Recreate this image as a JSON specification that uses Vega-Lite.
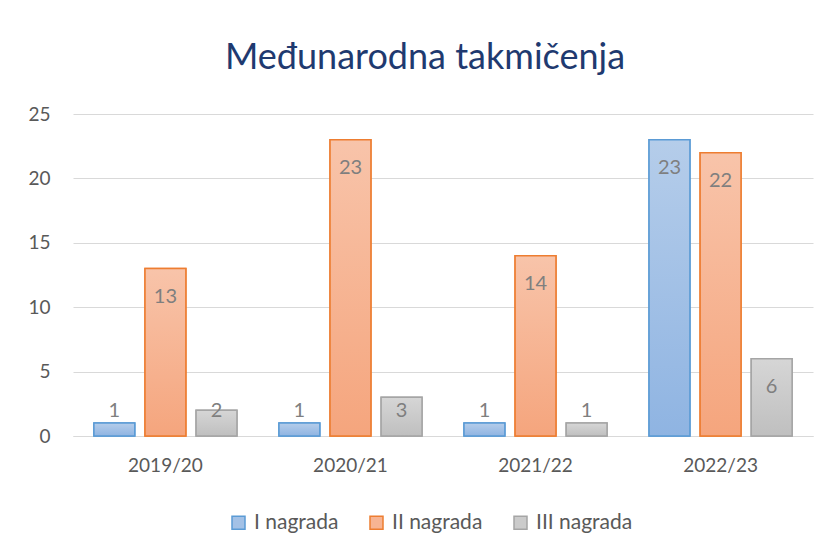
{
  "$schema": "https://vega.github.io/schema/vega-lite/v6.json",
  "autosize": "none",
  "width": 740,
  "height": 322,
  "padding": {"left": 73, "top": 114, "right": 19, "bottom": 114},
  "background": "white",
  "title": {
    "text": "Međunarodna takmičenja",
    "font": "Lato",
    "fontSize": 36,
    "fontWeight": "normal",
    "color": "#1f3a70",
    "anchor": "middle",
    "offset": 28,
    "dx": -18
  },
  "data": {
    "values": [
      {"year": "2019/20", "series": "I nagrada", "v": 1},
      {"year": "2019/20", "series": "II nagrada", "v": 13},
      {"year": "2019/20", "series": "III nagrada", "v": 2},
      {"year": "2020/21", "series": "I nagrada", "v": 1},
      {"year": "2020/21", "series": "II nagrada", "v": 23},
      {"year": "2020/21", "series": "III nagrada", "v": 3},
      {"year": "2021/22", "series": "I nagrada", "v": 1},
      {"year": "2021/22", "series": "II nagrada", "v": 14},
      {"year": "2021/22", "series": "III nagrada", "v": 1},
      {"year": "2022/23", "series": "I nagrada", "v": 23},
      {"year": "2022/23", "series": "II nagrada", "v": 22},
      {"year": "2022/23", "series": "III nagrada", "v": 6}
    ]
  },
  "encoding": {
    "x": {
      "field": "year",
      "type": "nominal",
      "scale": {"paddingInner": 0.227, "paddingOuter": 0.113},
      "axis": {
        "title": null,
        "labelAngle": 0,
        "labelFont": "Lato",
        "labelFontSize": 19,
        "labelColor": "#595959",
        "labelPadding": 20,
        "ticks": false,
        "domain": true,
        "domainColor": "#d9d9d9",
        "domainWidth": 1
      }
    },
    "xOffset": {
      "field": "series",
      "type": "nominal",
      "scale": {"paddingInner": 0.2, "paddingOuter": 0}
    }
  },
  "layer": [
    {
      "mark": {"type": "bar", "strokeWidth": 1.5},
      "encoding": {
        "y": {
          "field": "v",
          "type": "quantitative",
          "stack": null,
          "scale": {"domain": [0, 25], "nice": false},
          "axis": {
            "title": null,
            "values": [0, 5, 10, 15, 20, 25],
            "labelFont": "Lato",
            "labelFontSize": 19,
            "labelColor": "#595959",
            "labelPadding": 23,
            "ticks": false,
            "domain": false,
            "grid": true,
            "gridColor": "#d9d9d9",
            "gridWidth": 1
          }
        },
        "fill": {
          "field": "series",
          "type": "nominal",
          "scale": {
            "domain": ["I nagrada", "II nagrada", "III nagrada"],
            "range": ["#a3c1e6", "#f7b493", "#cbcbcb"]
          },
          "legend": {
            "title": null,
            "orient": "none",
            "legendX": 155,
            "legendY": 398,
            "direction": "horizontal",
            "symbolType": "square",
            "symbolSize": 169,
            "symbolStrokeWidth": 1.5,
            "labelFont": "Lato",
            "labelFontSize": 21,
            "labelColor": "#595959",
            "labelOffset": 5,
            "columnPadding": 27
          }
        },
        "stroke": {
          "field": "series",
          "type": "nominal",
          "scale": {
            "domain": ["I nagrada", "II nagrada", "III nagrada"],
            "range": ["#5b9bd5", "#ed7d31", "#a5a5a5"]
          },
          "legend": null
        }
      }
    },
    {
      "mark": {"type": "bar", "strokeWidth": 1.5},
      "encoding": {
        "y": {"field": "v", "type": "quantitative", "stack": null},
        "fill": {
          "condition": [
            {"test": "datum.series === 'I nagrada'", "value": {"gradient": "linear", "x1": 0, "y1": 0, "x2": 0, "y2": 1, "stops": [{"offset": 0, "color": "#b5cdea"}, {"offset": 1, "color": "#8fb4e2"}]}},
            {"test": "datum.series === 'II nagrada'", "value": {"gradient": "linear", "x1": 0, "y1": 0, "x2": 0, "y2": 1, "stops": [{"offset": 0, "color": "#f8c4aa"}, {"offset": 1, "color": "#f5a57d"}]}}
          ],
          "value": {"gradient": "linear", "x1": 0, "y1": 0, "x2": 0, "y2": 1, "stops": [{"offset": 0, "color": "#d6d6d6"}, {"offset": 1, "color": "#bfbfbf"}]}
        },
        "stroke": {"field": "series", "type": "nominal", "legend": null}
      }
    },
    {
      "transform": [{"filter": "datum.v >= 4"}],
      "mark": {"type": "text", "baseline": "middle", "dy": 28, "font": "Lato", "fontSize": 20, "color": "#7f7f7f"},
      "encoding": {
        "y": {"field": "v", "type": "quantitative"},
        "text": {"field": "v", "type": "quantitative"}
      }
    },
    {
      "transform": [{"filter": "datum.v < 4"}],
      "mark": {"type": "text", "baseline": "middle", "dy": -25, "font": "Lato", "fontSize": 20, "color": "#7f7f7f"},
      "encoding": {
        "y": {"datum": 0, "type": "quantitative"},
        "text": {"field": "v", "type": "quantitative"}
      }
    }
  ],
  "config": {"view": {"stroke": null}}
}
